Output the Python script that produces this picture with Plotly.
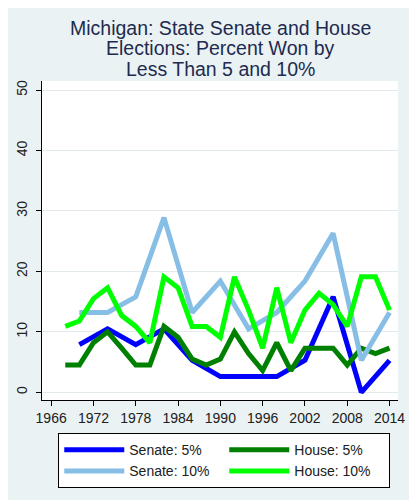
import plotly.graph_objects as go

# DATA
house_years = list(range(1968, 2015, 2))
senate_years = list(range(1970, 2015, 4))

senate_5 = [7.9, 10.5, 7.9, 10.5, 5.3, 2.6, 2.6, 2.6, 5.3, 15.8, 0.0, 5.3]
senate_10 = [13.2, 13.2, 15.8, 28.9, 13.2, 18.4, 10.5, 13.2, 18.4, 26.3, 5.3, 13.2]
house_5 = [4.5, 4.5, 8.2, 10.0, 7.3, 4.5, 4.5, 10.9, 9.1, 5.5, 4.5, 5.5,
           10.0, 6.4, 3.6, 8.2, 3.6, 7.3, 7.3, 7.3, 4.5, 7.3, 6.4, 7.3]
house_10 = [10.9, 11.8, 15.5, 17.3, 12.7, 10.9, 8.2, 19.1, 17.3, 10.9, 10.9, 9.1,
            19.1, 13.6, 7.3, 17.3, 8.2, 13.6, 16.4, 14.5, 10.9, 19.1, 19.1, 13.6]

x_ticks = list(range(1966, 2015, 6))
y_ticks = [0, 10, 20, 30, 40, 50]

title_lines = ["Michigan: State Senate and House",
               "Elections: Percent Won by",
               "Less Than 5 and 10%"]

# the page body has an 8px default margin, so the figure is sized 8px smaller
# and the margins are shifted to keep the plot where the reference has it
plot_h = 319

# FIGURE
fig = go.Figure()
fig.add_trace(go.Scatter(x=senate_years, y=senate_5, mode='lines', name='Senate: 5%',
                         line=dict(color='#0000FF', width=5)))
fig.add_trace(go.Scatter(x=house_years, y=house_5, mode='lines', name='House: 5%',
                         line=dict(color='#008000', width=5)))
fig.add_trace(go.Scatter(x=senate_years, y=senate_10, mode='lines', name='Senate: 10%',
                         line=dict(color='#87BEE6', width=5)))
fig.add_trace(go.Scatter(x=house_years, y=house_10, mode='lines', name='House: 10%',
                         line=dict(color='#00FF00', width=5)))

# title as three stacked lines (Stata-like tight line spacing)
title_y = [28, 48.5, 69]  # px from top of page
for txt, py in zip(title_lines, title_y):
    fig.add_annotation(text=txt, xref='paper', yref='paper', x=0.5, xanchor='center',
                       y=1 + (81 - py) / plot_h, yanchor='middle', showarrow=False,
                       font=dict(size=19.5, color='#1E2A50'))

fig.update_layout(
    width=409, height=492,
    margin=dict(l=34, r=16, t=73, b=100),
    paper_bgcolor='#EAF2F3',
    plot_bgcolor='white',
    font=dict(family='Liberation Sans, Arial, sans-serif', size=14, color='#202020'),
    showlegend=True,
    legend=dict(orientation='h', x=0.0457, y=-0.104, xanchor='left', yanchor='top',
                entrywidth=90, entrywidthmode='pixels', itemwidth=60,
                bgcolor='white', bordercolor='black', borderwidth=1,
                font=dict(size=14), traceorder='normal'),
)
fig.update_xaxes(range=[1964.7, 2015.2], tickvals=x_ticks, ticks='outside', ticklen=5,
                 tickcolor='black', showline=True, linecolor='black', linewidth=1,
                 showgrid=False, zeroline=False)
fig.update_yaxes(range=[-1.27, 51.5], tickvals=y_ticks, ticks='outside', ticklen=5,
                 tickcolor='black', tickangle=-90, ticklabelstandoff=3, automargin=False,
                 showline=True, linecolor='black', linewidth=1,
                 showgrid=True, gridcolor='#E3EAED', gridwidth=1, zeroline=False)

fig.write_html("out.html")
